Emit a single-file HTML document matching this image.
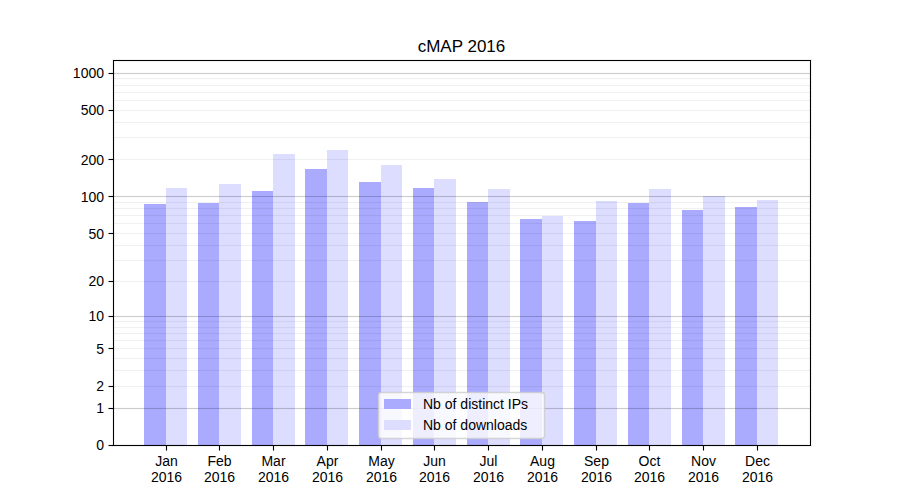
<!DOCTYPE html>
<html lang="en">
<head>
<meta charset="utf-8">
<title>cMAP 2016</title>
<style>
html,body{margin:0;padding:0;background:#ffffff;}
body{width:900px;height:500px;overflow:hidden;font-family:"Liberation Sans",sans-serif;}
svg{display:block;}
.lbl{font-family:"Liberation Sans",sans-serif;font-size:14px;fill:#000;}
</style>
</head>
<body>
<svg width="900" height="500" viewBox="0 0 900 500">
<rect x="0" y="0" width="900" height="500" fill="#ffffff"/>
<g id="bars-distinct-ips" fill="#aaaaff">
<rect x="144" y="204" width="22" height="241"/>
<rect x="198" y="203" width="21" height="242"/>
<rect x="252" y="191" width="21" height="254"/>
<rect x="305" y="169" width="22" height="276"/>
<rect x="359" y="182" width="22" height="263"/>
<rect x="413" y="188" width="21" height="257"/>
<rect x="467" y="202" width="21" height="243"/>
<rect x="520" y="219" width="22" height="226"/>
<rect x="574" y="221" width="22" height="224"/>
<rect x="628" y="203" width="21" height="242"/>
<rect x="682" y="210" width="21" height="235"/>
<rect x="735" y="207" width="22" height="238"/>
</g>
<g id="bars-downloads" fill="#ddddff">
<rect x="166" y="188" width="21" height="257"/>
<rect x="219" y="184" width="22" height="261"/>
<rect x="273" y="154" width="22" height="291"/>
<rect x="327" y="150" width="21" height="295"/>
<rect x="381" y="165" width="21" height="280"/>
<rect x="434" y="179" width="22" height="266"/>
<rect x="488" y="189" width="22" height="256"/>
<rect x="542" y="216" width="21" height="229"/>
<rect x="596" y="201" width="21" height="244"/>
<rect x="649" y="189" width="22" height="256"/>
<rect x="703" y="196" width="22" height="249"/>
<rect x="757" y="200" width="21" height="245"/>
</g>
<g id="grid-minor" fill="#000000">
<rect x="113" y="78" width="698" height="1" fill-opacity="0.06"/>
<rect x="113" y="77" width="698" height="1" fill-opacity="0.0033"/>
<rect x="113" y="79" width="698" height="1" fill-opacity="0.0033"/>
<rect x="113" y="85" width="698" height="1" fill-opacity="0.06"/>
<rect x="113" y="84" width="698" height="1" fill-opacity="0.0033"/>
<rect x="113" y="86" width="698" height="1" fill-opacity="0.0033"/>
<rect x="113" y="92" width="698" height="1" fill-opacity="0.06"/>
<rect x="113" y="91" width="698" height="1" fill-opacity="0.0033"/>
<rect x="113" y="93" width="698" height="1" fill-opacity="0.0033"/>
<rect x="113" y="100" width="698" height="1" fill-opacity="0.06"/>
<rect x="113" y="99" width="698" height="1" fill-opacity="0.0033"/>
<rect x="113" y="101" width="698" height="1" fill-opacity="0.0033"/>
<rect x="113" y="110" width="698" height="1" fill-opacity="0.06"/>
<rect x="113" y="109" width="698" height="1" fill-opacity="0.0033"/>
<rect x="113" y="111" width="698" height="1" fill-opacity="0.0033"/>
<rect x="113" y="122" width="698" height="1" fill-opacity="0.06"/>
<rect x="113" y="121" width="698" height="1" fill-opacity="0.0033"/>
<rect x="113" y="123" width="698" height="1" fill-opacity="0.0033"/>
<rect x="113" y="137" width="698" height="1" fill-opacity="0.06"/>
<rect x="113" y="136" width="698" height="1" fill-opacity="0.0033"/>
<rect x="113" y="138" width="698" height="1" fill-opacity="0.0033"/>
<rect x="113" y="159" width="698" height="1" fill-opacity="0.06"/>
<rect x="113" y="158" width="698" height="1" fill-opacity="0.0033"/>
<rect x="113" y="160" width="698" height="1" fill-opacity="0.0033"/>
<rect x="113" y="202" width="698" height="1" fill-opacity="0.06"/>
<rect x="113" y="201" width="698" height="1" fill-opacity="0.0033"/>
<rect x="113" y="203" width="698" height="1" fill-opacity="0.0033"/>
<rect x="113" y="208" width="698" height="1" fill-opacity="0.06"/>
<rect x="113" y="207" width="698" height="1" fill-opacity="0.0033"/>
<rect x="113" y="209" width="698" height="1" fill-opacity="0.0033"/>
<rect x="113" y="215" width="698" height="1" fill-opacity="0.06"/>
<rect x="113" y="214" width="698" height="1" fill-opacity="0.0033"/>
<rect x="113" y="216" width="698" height="1" fill-opacity="0.0033"/>
<rect x="113" y="223" width="698" height="1" fill-opacity="0.06"/>
<rect x="113" y="222" width="698" height="1" fill-opacity="0.0033"/>
<rect x="113" y="224" width="698" height="1" fill-opacity="0.0033"/>
<rect x="113" y="233" width="698" height="1" fill-opacity="0.06"/>
<rect x="113" y="232" width="698" height="1" fill-opacity="0.0033"/>
<rect x="113" y="234" width="698" height="1" fill-opacity="0.0033"/>
<rect x="113" y="245" width="698" height="1" fill-opacity="0.06"/>
<rect x="113" y="244" width="698" height="1" fill-opacity="0.0033"/>
<rect x="113" y="246" width="698" height="1" fill-opacity="0.0033"/>
<rect x="113" y="260" width="698" height="1" fill-opacity="0.06"/>
<rect x="113" y="259" width="698" height="1" fill-opacity="0.0033"/>
<rect x="113" y="261" width="698" height="1" fill-opacity="0.0033"/>
<rect x="113" y="281" width="698" height="1" fill-opacity="0.06"/>
<rect x="113" y="280" width="698" height="1" fill-opacity="0.0033"/>
<rect x="113" y="282" width="698" height="1" fill-opacity="0.0033"/>
<rect x="113" y="321" width="698" height="1" fill-opacity="0.06"/>
<rect x="113" y="320" width="698" height="1" fill-opacity="0.0033"/>
<rect x="113" y="322" width="698" height="1" fill-opacity="0.0033"/>
<rect x="113" y="327" width="698" height="1" fill-opacity="0.06"/>
<rect x="113" y="326" width="698" height="1" fill-opacity="0.0033"/>
<rect x="113" y="328" width="698" height="1" fill-opacity="0.0033"/>
<rect x="113" y="333" width="698" height="1" fill-opacity="0.06"/>
<rect x="113" y="332" width="698" height="1" fill-opacity="0.0033"/>
<rect x="113" y="334" width="698" height="1" fill-opacity="0.0033"/>
<rect x="113" y="340" width="698" height="1" fill-opacity="0.06"/>
<rect x="113" y="339" width="698" height="1" fill-opacity="0.0033"/>
<rect x="113" y="341" width="698" height="1" fill-opacity="0.0033"/>
<rect x="113" y="348" width="698" height="1" fill-opacity="0.06"/>
<rect x="113" y="347" width="698" height="1" fill-opacity="0.0033"/>
<rect x="113" y="349" width="698" height="1" fill-opacity="0.0033"/>
<rect x="113" y="358" width="698" height="1" fill-opacity="0.06"/>
<rect x="113" y="357" width="698" height="1" fill-opacity="0.0033"/>
<rect x="113" y="359" width="698" height="1" fill-opacity="0.0033"/>
<rect x="113" y="370" width="698" height="1" fill-opacity="0.06"/>
<rect x="113" y="369" width="698" height="1" fill-opacity="0.0033"/>
<rect x="113" y="371" width="698" height="1" fill-opacity="0.0033"/>
<rect x="113" y="386" width="698" height="1" fill-opacity="0.06"/>
<rect x="113" y="385" width="698" height="1" fill-opacity="0.0033"/>
<rect x="113" y="387" width="698" height="1" fill-opacity="0.0033"/>
</g>
<g id="grid-major" fill="#000000">
<rect x="113" y="73" width="698" height="1" fill-opacity="0.2"/>
<rect x="113" y="72" width="698" height="1" fill-opacity="0.0111"/>
<rect x="113" y="74" width="698" height="1" fill-opacity="0.0111"/>
<rect x="113" y="196" width="698" height="1" fill-opacity="0.2"/>
<rect x="113" y="195" width="698" height="1" fill-opacity="0.0111"/>
<rect x="113" y="197" width="698" height="1" fill-opacity="0.0111"/>
<rect x="113" y="316" width="698" height="1" fill-opacity="0.2"/>
<rect x="113" y="315" width="698" height="1" fill-opacity="0.0111"/>
<rect x="113" y="317" width="698" height="1" fill-opacity="0.0111"/>
<rect x="113" y="408" width="698" height="1" fill-opacity="0.2"/>
<rect x="113" y="407" width="698" height="1" fill-opacity="0.0111"/>
<rect x="113" y="409" width="698" height="1" fill-opacity="0.0111"/>
</g>
<g id="ticks" fill="#000000">
<rect x="166" y="446" width="1" height="4.5" fill-opacity="1."/>
<rect x="165" y="446" width="1" height="4.5" fill-opacity="0.0555"/>
<rect x="167" y="446" width="1" height="4.5" fill-opacity="0.0555"/>
<rect x="219" y="446" width="1" height="4.5" fill-opacity="1."/>
<rect x="218" y="446" width="1" height="4.5" fill-opacity="0.0555"/>
<rect x="220" y="446" width="1" height="4.5" fill-opacity="0.0555"/>
<rect x="273" y="446" width="1" height="4.5" fill-opacity="1."/>
<rect x="272" y="446" width="1" height="4.5" fill-opacity="0.0555"/>
<rect x="274" y="446" width="1" height="4.5" fill-opacity="0.0555"/>
<rect x="327" y="446" width="1" height="4.5" fill-opacity="1."/>
<rect x="326" y="446" width="1" height="4.5" fill-opacity="0.0555"/>
<rect x="328" y="446" width="1" height="4.5" fill-opacity="0.0555"/>
<rect x="381" y="446" width="1" height="4.5" fill-opacity="1."/>
<rect x="380" y="446" width="1" height="4.5" fill-opacity="0.0555"/>
<rect x="382" y="446" width="1" height="4.5" fill-opacity="0.0555"/>
<rect x="434" y="446" width="1" height="4.5" fill-opacity="1."/>
<rect x="433" y="446" width="1" height="4.5" fill-opacity="0.0555"/>
<rect x="435" y="446" width="1" height="4.5" fill-opacity="0.0555"/>
<rect x="488" y="446" width="1" height="4.5" fill-opacity="1."/>
<rect x="487" y="446" width="1" height="4.5" fill-opacity="0.0555"/>
<rect x="489" y="446" width="1" height="4.5" fill-opacity="0.0555"/>
<rect x="542" y="446" width="1" height="4.5" fill-opacity="1."/>
<rect x="541" y="446" width="1" height="4.5" fill-opacity="0.0555"/>
<rect x="543" y="446" width="1" height="4.5" fill-opacity="0.0555"/>
<rect x="596" y="446" width="1" height="4.5" fill-opacity="1."/>
<rect x="595" y="446" width="1" height="4.5" fill-opacity="0.0555"/>
<rect x="597" y="446" width="1" height="4.5" fill-opacity="0.0555"/>
<rect x="649" y="446" width="1" height="4.5" fill-opacity="1."/>
<rect x="648" y="446" width="1" height="4.5" fill-opacity="0.0555"/>
<rect x="650" y="446" width="1" height="4.5" fill-opacity="0.0555"/>
<rect x="703" y="446" width="1" height="4.5" fill-opacity="1."/>
<rect x="702" y="446" width="1" height="4.5" fill-opacity="0.0555"/>
<rect x="704" y="446" width="1" height="4.5" fill-opacity="0.0555"/>
<rect x="757" y="446" width="1" height="4.5" fill-opacity="1."/>
<rect x="756" y="446" width="1" height="4.5" fill-opacity="0.0555"/>
<rect x="758" y="446" width="1" height="4.5" fill-opacity="0.0555"/>
<rect x="108.5" y="445" width="4.5" height="1" fill-opacity="1."/>
<rect x="108.5" y="444" width="4.5" height="1" fill-opacity="0.0555"/>
<rect x="108.5" y="446" width="4.5" height="1" fill-opacity="0.0555"/>
<rect x="108.5" y="408" width="4.5" height="1" fill-opacity="1."/>
<rect x="108.5" y="407" width="4.5" height="1" fill-opacity="0.0555"/>
<rect x="108.5" y="409" width="4.5" height="1" fill-opacity="0.0555"/>
<rect x="108.5" y="386" width="4.5" height="1" fill-opacity="1."/>
<rect x="108.5" y="385" width="4.5" height="1" fill-opacity="0.0555"/>
<rect x="108.5" y="387" width="4.5" height="1" fill-opacity="0.0555"/>
<rect x="108.5" y="348" width="4.5" height="1" fill-opacity="1."/>
<rect x="108.5" y="347" width="4.5" height="1" fill-opacity="0.0555"/>
<rect x="108.5" y="349" width="4.5" height="1" fill-opacity="0.0555"/>
<rect x="108.5" y="316" width="4.5" height="1" fill-opacity="1."/>
<rect x="108.5" y="315" width="4.5" height="1" fill-opacity="0.0555"/>
<rect x="108.5" y="317" width="4.5" height="1" fill-opacity="0.0555"/>
<rect x="108.5" y="281" width="4.5" height="1" fill-opacity="1."/>
<rect x="108.5" y="280" width="4.5" height="1" fill-opacity="0.0555"/>
<rect x="108.5" y="282" width="4.5" height="1" fill-opacity="0.0555"/>
<rect x="108.5" y="233" width="4.5" height="1" fill-opacity="1."/>
<rect x="108.5" y="232" width="4.5" height="1" fill-opacity="0.0555"/>
<rect x="108.5" y="234" width="4.5" height="1" fill-opacity="0.0555"/>
<rect x="108.5" y="196" width="4.5" height="1" fill-opacity="1."/>
<rect x="108.5" y="195" width="4.5" height="1" fill-opacity="0.0555"/>
<rect x="108.5" y="197" width="4.5" height="1" fill-opacity="0.0555"/>
<rect x="108.5" y="159" width="4.5" height="1" fill-opacity="1."/>
<rect x="108.5" y="158" width="4.5" height="1" fill-opacity="0.0555"/>
<rect x="108.5" y="160" width="4.5" height="1" fill-opacity="0.0555"/>
<rect x="108.5" y="110" width="4.5" height="1" fill-opacity="1."/>
<rect x="108.5" y="109" width="4.5" height="1" fill-opacity="0.0555"/>
<rect x="108.5" y="111" width="4.5" height="1" fill-opacity="0.0555"/>
<rect x="108.5" y="73" width="4.5" height="1" fill-opacity="1."/>
<rect x="108.5" y="72" width="4.5" height="1" fill-opacity="0.0555"/>
<rect x="108.5" y="74" width="4.5" height="1" fill-opacity="0.0555"/>
</g>
<g id="spines" fill="none" stroke="#000000" stroke-width="1">
<rect x="112.5" y="59.5" width="699" height="387" stroke-opacity="0.0555"/>
<rect x="114.5" y="61.5" width="695" height="383" stroke-opacity="0.0555"/>
<rect x="113.5" y="60.5" width="697" height="385"/>
</g>
<path id="legend-frame" d="M381.28 438.5 L541.72 438.5 Q544.5 438.5 544.5 435.72 L544.5 395.28 Q544.5 392.5 541.72 392.5 L381.28 392.5 Q378.5 392.5 378.5 395.28 L378.5 435.72 Q378.5 438.5 381.28 438.5Z" fill="#ffffff" fill-opacity="0.8" stroke="#cccccc" stroke-opacity="0.8" stroke-width="1.39"/>
<rect x="384" y="399" width="27" height="10" fill="#aaaaff"/>
<rect x="384" y="420" width="27" height="10" fill="#ddddff"/>
<g id="text-layer" class="lbl" fill="#000000">
<text x="166.5" y="466" font-size="14" text-anchor="middle">Jan</text>
<text x="166.5" y="482" font-size="14" text-anchor="middle">2016</text>
<text x="219.5" y="466" font-size="14" text-anchor="middle">Feb</text>
<text x="219.5" y="482" font-size="14" text-anchor="middle">2016</text>
<text x="273.5" y="466" font-size="14" text-anchor="middle">Mar</text>
<text x="273.5" y="482" font-size="14" text-anchor="middle">2016</text>
<text x="327.5" y="466" font-size="14" text-anchor="middle">Apr</text>
<text x="327.5" y="482" font-size="14" text-anchor="middle">2016</text>
<text x="381.5" y="466" font-size="14" text-anchor="middle">May</text>
<text x="381.5" y="482" font-size="14" text-anchor="middle">2016</text>
<text x="434.5" y="466" font-size="14" text-anchor="middle">Jun</text>
<text x="434.5" y="482" font-size="14" text-anchor="middle">2016</text>
<text x="488.5" y="466" font-size="14" text-anchor="middle">Jul</text>
<text x="488.5" y="482" font-size="14" text-anchor="middle">2016</text>
<text x="542.5" y="466" font-size="14" text-anchor="middle">Aug</text>
<text x="542.5" y="482" font-size="14" text-anchor="middle">2016</text>
<text x="596.5" y="466" font-size="14" text-anchor="middle">Sep</text>
<text x="596.5" y="482" font-size="14" text-anchor="middle">2016</text>
<text x="649.5" y="466" font-size="14" text-anchor="middle">Oct</text>
<text x="649.5" y="482" font-size="14" text-anchor="middle">2016</text>
<text x="703.5" y="466" font-size="14" text-anchor="middle">Nov</text>
<text x="703.5" y="482" font-size="14" text-anchor="middle">2016</text>
<text x="757.5" y="466" font-size="14" text-anchor="middle">Dec</text>
<text x="757.5" y="482" font-size="14" text-anchor="middle">2016</text>
<text x="104" y="450" font-size="14" text-anchor="end">0</text>
<text x="104" y="413" font-size="14" text-anchor="end">1</text>
<text x="104" y="391" font-size="14" text-anchor="end">2</text>
<text x="104" y="354" font-size="14" text-anchor="end">5</text>
<text x="104" y="321" font-size="14" text-anchor="end">10</text>
<text x="104" y="286" font-size="14" text-anchor="end">20</text>
<text x="104" y="239" font-size="14" text-anchor="end">50</text>
<text x="104" y="202" font-size="14" text-anchor="end">100</text>
<text x="104" y="165" font-size="14" text-anchor="end">200</text>
<text x="104" y="115" font-size="14" text-anchor="end">500</text>
<text x="104" y="78" font-size="14" text-anchor="end">1000</text>
<text x="461.5" y="52" font-size="17" text-anchor="middle">cMAP 2016</text>
<text x="423" y="409" font-size="14">Nb of distinct IPs</text>
<text x="423" y="430" font-size="14">Nb of downloads</text>
</g>
</svg>
</body>
</html>
